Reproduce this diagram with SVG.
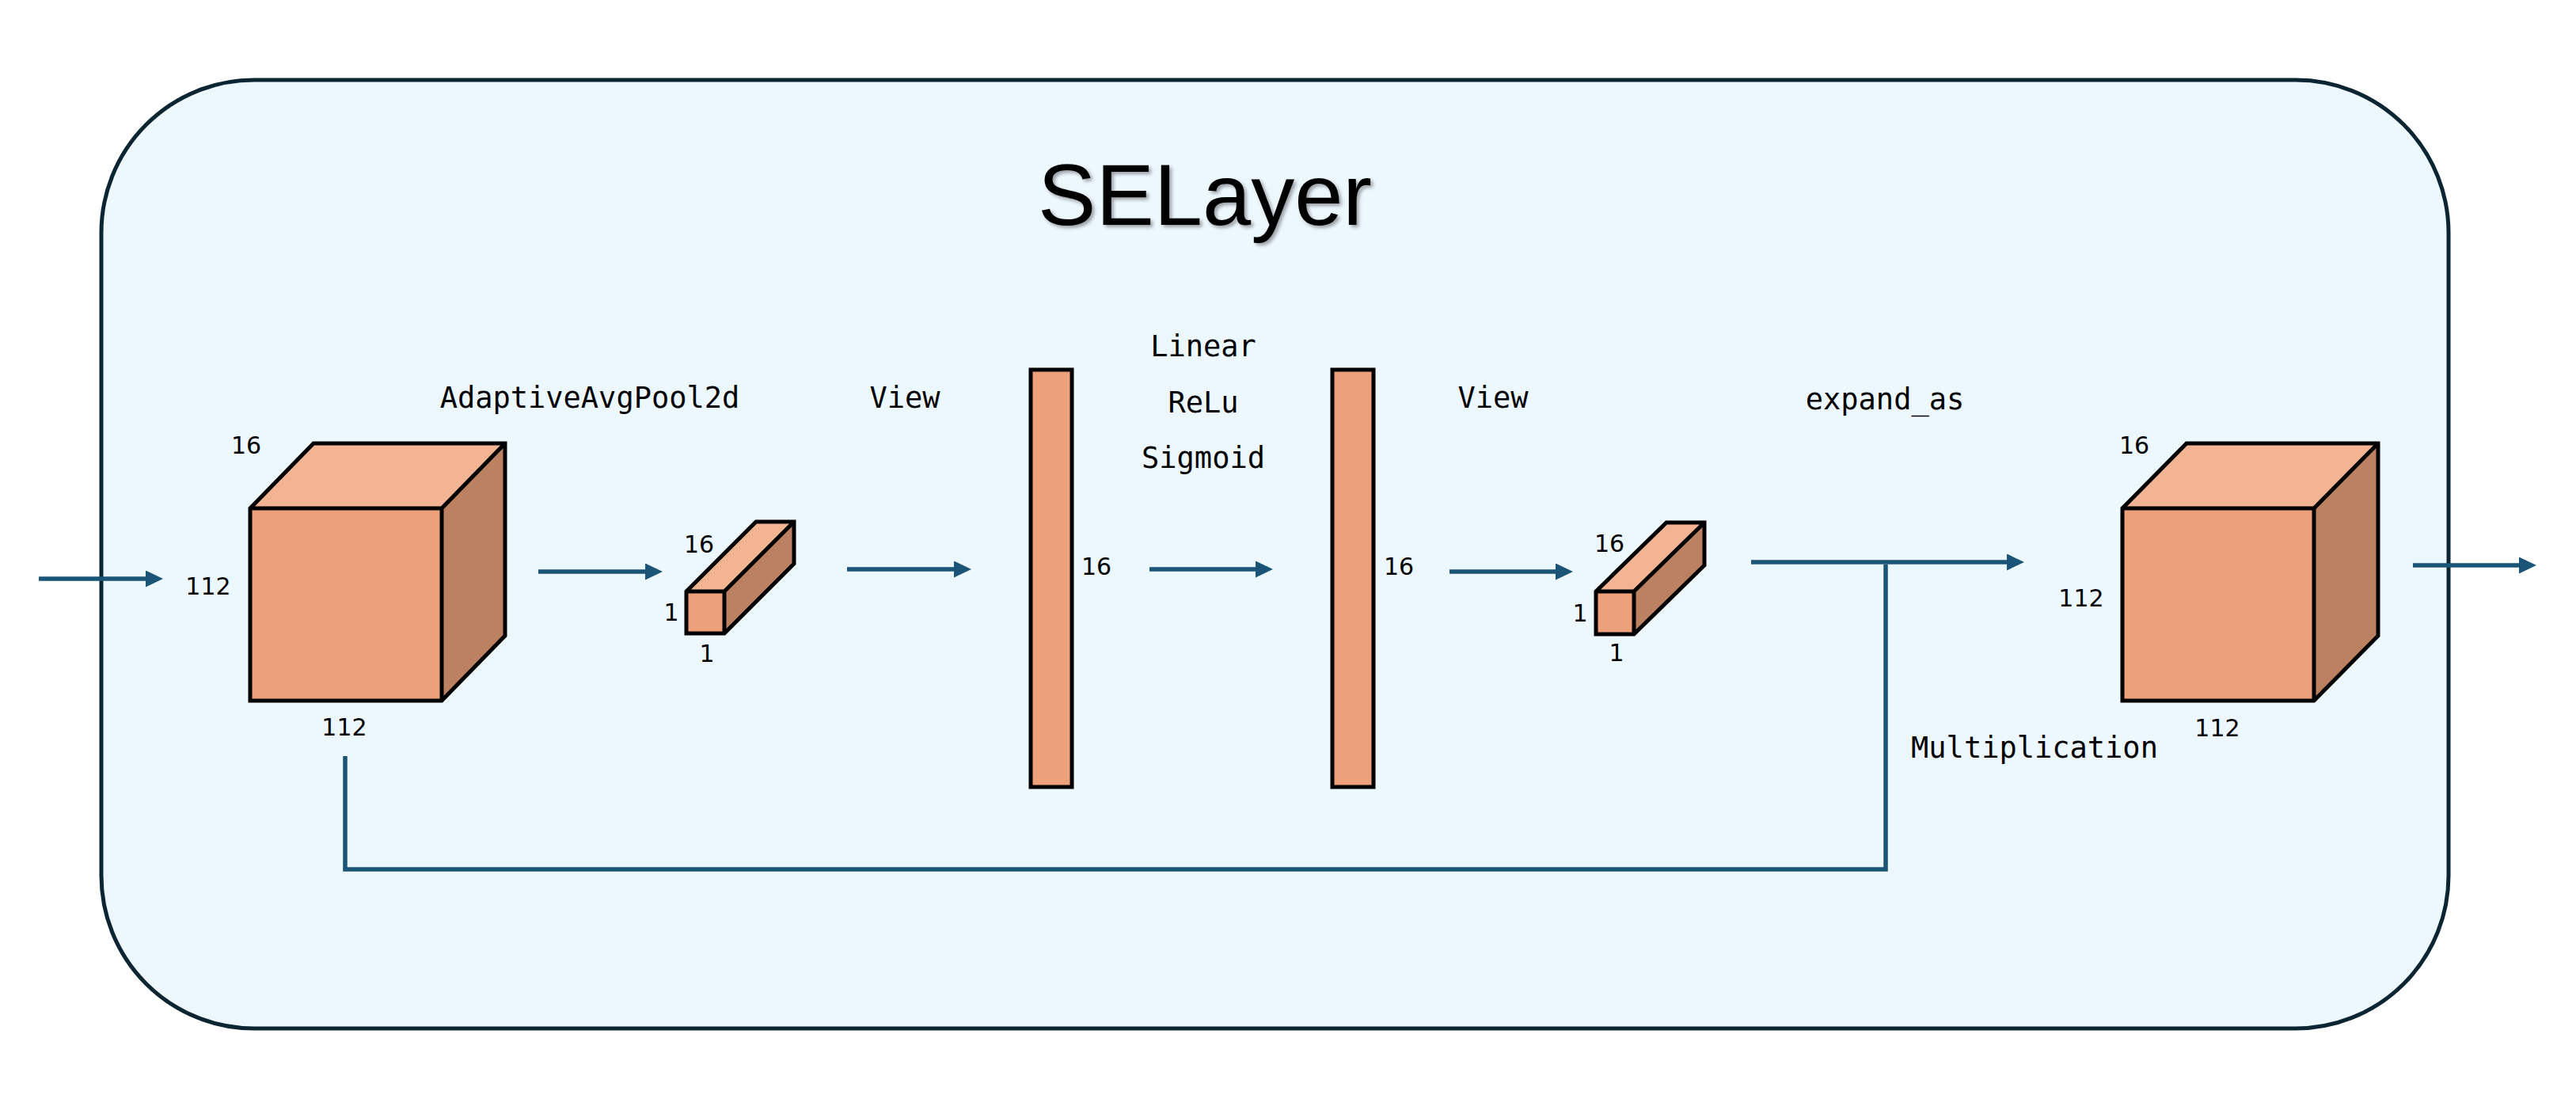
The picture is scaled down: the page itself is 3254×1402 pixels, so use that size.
<svg xmlns="http://www.w3.org/2000/svg" width="3254" height="1402" viewBox="0 0 3254 1402">
<style>
.box{fill:#EDF7FE;stroke:#0B2533;stroke-width:5}
.front{fill:#EDA17B;stroke:none}
.top{fill:#F3B494;stroke:none}
.side{fill:#BB8160;stroke:none}
.edge{fill:none;stroke:#000;stroke-width:5;stroke-linejoin:miter;stroke-miterlimit:10}
.bar{fill:#EDA17B;stroke:#000;stroke-width:5}
.num{font-family:"DejaVu Sans","Liberation Sans",sans-serif;font-size:30px;fill:#000;text-anchor:middle}
.op{font-family:"DejaVu Sans Mono","Liberation Mono",monospace;font-size:37px;fill:#000;text-anchor:middle}
.title{font-family:"Liberation Sans",Arial,sans-serif;font-size:110px;fill:#000;text-anchor:middle}
.conn{fill:none;stroke:#1A5577;stroke-width:5.5}
</style>
<defs>
<marker id="ah" markerUnits="userSpaceOnUse" markerWidth="24" markerHeight="22" refX="2" refY="10.5" orient="auto">
<path d="M0,0 L22,10.5 L0,21 z" fill="#1A5577"/>
</marker>
<filter id="sh" x="-10%" y="-10%" width="120%" height="130%">
<feDropShadow dx="3" dy="3" stdDeviation="2" flood-color="#000" flood-opacity="0.35"/>
</filter>
</defs>
<rect width="3254" height="1402" fill="#FFFFFF"/>
<g id="selayer">
<rect class="box" x="128" y="101" width="2965" height="1198" rx="193" ry="193"/>
<text class="title" x="1522" y="284" filter="url(#sh)">SELayer</text>
</g>
<g id="connectors">
<path class="conn" d="M49,731 H186" marker-end="url(#ah)"/>
<path class="conn" d="M680,722 H817" marker-end="url(#ah)"/>
<path class="conn" d="M1070,719 H1207" marker-end="url(#ah)"/>
<path class="conn" d="M1452,719 H1588" marker-end="url(#ah)"/>
<path class="conn" d="M1831,722 H1967" marker-end="url(#ah)"/>
<path class="conn" d="M2212,710 H2537" marker-end="url(#ah)"/>
<path class="conn" d="M3048,714 H3184" marker-end="url(#ah)"/>
<path class="conn" d="M436,955 V1098 H2382 V713"/>
</g>
<g id="input-cube">
<rect class="front" x="316" y="642" width="242" height="243"/>
<polygon class="top" points="316,642 396,560 638,560 558,642"/>
<polygon class="side" points="558,642 638,560 638,803 558,885"/>
<path class="edge" d="M316,642 L396,560 H638 V803 L558,885 H316 Z M316,642 H558 V885 M558,642 L638,560"/>
<text class="num" x="311" y="573">16</text>
<text class="num" x="263" y="751">112</text>
<text class="num" x="435" y="929">112</text>
</g>
<g id="pooled-cube">
<rect class="front" x="867" y="747" width="48" height="53"/>
<polygon class="top" points="867,747 955,659 1003,659 915,747"/>
<polygon class="side" points="915,747 1003,659 1003,712 915,800"/>
<path class="edge" d="M867,747 L955,659 H1003 V712 L915,800 H867 Z M867,747 H915 V800 M915,747 L1003,659"/>
<text class="num" x="883" y="698">16</text>
<text class="num" x="848" y="784">1</text>
<text class="num" x="893" y="836">1</text>
</g>
<g id="vector-1">
<rect class="bar" x="1302" y="467" width="52" height="527"/>
<text class="num" x="1385" y="726">16</text>
</g>
<g id="vector-2">
<rect class="bar" x="1683" y="467" width="52" height="527"/>
<text class="num" x="1767" y="726">16</text>
</g>
<g id="weight-cube">
<rect class="front" x="2016" y="747" width="48" height="54"/>
<polygon class="top" points="2016,747 2105,660 2153,660 2064,747"/>
<polygon class="side" points="2064,747 2153,660 2153,714 2064,801"/>
<path class="edge" d="M2016,747 L2105,660 H2153 V714 L2064,801 H2016 Z M2016,747 H2064 V801 M2064,747 L2153,660"/>
<text class="num" x="2033" y="697">16</text>
<text class="num" x="1996" y="785">1</text>
<text class="num" x="2042" y="835">1</text>
</g>
<g id="output-cube">
<rect class="front" x="2681" y="642" width="242" height="243"/>
<polygon class="top" points="2681,642 2762,560 3004,560 2923,642"/>
<polygon class="side" points="2923,642 3004,560 3004,803 2923,885"/>
<path class="edge" d="M2681,642 L2762,560 H3004 V803 L2923,885 H2681 Z M2681,642 H2923 V885 M2923,642 L3004,560"/>
<text class="num" x="2696" y="573">16</text>
<text class="num" x="2629" y="766">112</text>
<text class="num" x="2801" y="930">112</text>
</g>
<g id="labels">
<text class="op" x="745" y="515">AdaptiveAvgPool2d</text>
<text class="op" x="1143" y="515">View</text>
<text class="op" x="1520" y="450">Linear</text>
<text class="op" x="1520" y="521">ReLu</text>
<text class="op" x="1520" y="591">Sigmoid</text>
<text class="op" x="1886" y="515">View</text>
<text class="op" x="2381" y="517">expand_as</text>
<text class="op" x="2570" y="957">Multiplication</text>
</g>
</svg>
